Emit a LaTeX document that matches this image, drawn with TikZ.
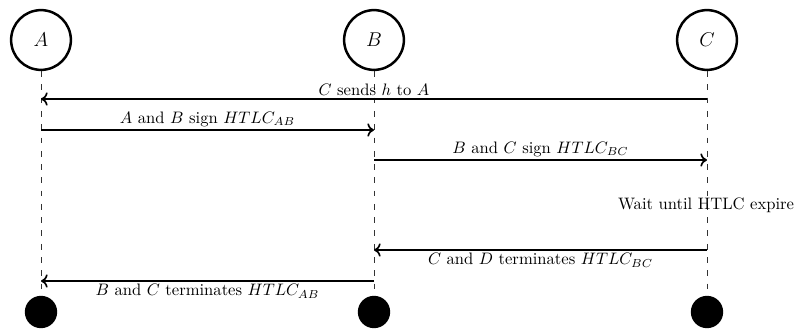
\documentclass[tikz,border=0pt]{standalone}
\usetikzlibrary{arrows.meta}
\begin{document}
\begin{tikzpicture}[x=0.6024pt,y=-0.6024pt,
  actor/.style={circle,draw,line width=1.5pt,minimum size=36pt,inner sep=0pt,font=\fontsize{13}{15}\selectfont},
  enddot/.style={circle,fill=black,minimum size=19.5pt,inner sep=0pt},
  life/.style={dash pattern=on 3.5pt off 4.5pt,line width=0.6pt,black!80},
  msg/.style={line width=1pt,-{To[length=4pt,width=8pt]}},
  lblup/.style={above,inner sep=1.5pt},
  lbldown/.style={below,inner sep=1.5pt}]
\useasboundingbox (0,0) rectangle (796,330);
\node[actor] (A) at (41,40) {$A$};
\node[actor] (B) at (374,40) {$B$};
\node[actor] (C) at (707,40) {$C$};
\node[enddot] (dA) at (41,312) {};
\node[enddot] (dB) at (374,312) {};
\node[enddot] (dC) at (707,312) {};
\draw[life] (A) -- (dA);
\draw[life] (B) -- (dB);
\draw[life] (C) -- (dC);
% endpoints on lifelines
\coordinate (c1) at (707,99);  \coordinate (a1) at (41,99);
\coordinate (a2) at (41,130);  \coordinate (b2) at (374,130);
\coordinate (b3) at (374,160); \coordinate (c3) at (707,160);
\coordinate (c5) at (707,250); \coordinate (b5) at (374,250);
\coordinate (b6) at (374,281); \coordinate (a6) at (41,281);
\draw[msg] (c1) -- node[lblup] {$C$ sends $h$ to $A$} (a1);
\draw[msg] (a2) -- node[lblup] {$A$ and $B$ sign $HTLC_{AB}$} (b2);
\draw[msg] (b3) -- node[lblup] {$B$ and $C$ sign $HTLC_{BC}$} (c3);
\node (wait) at (706,205) {Wait until HTLC expire};
\draw[msg] (c5) -- node[lbldown] {$C$ and $D$ terminates $HTLC_{BC}$} (b5);
\draw[msg] (b6) -- node[lbldown] {$B$ and $C$ terminates $HTLC_{AB}$} (a6);
\end{tikzpicture}
\end{document}
